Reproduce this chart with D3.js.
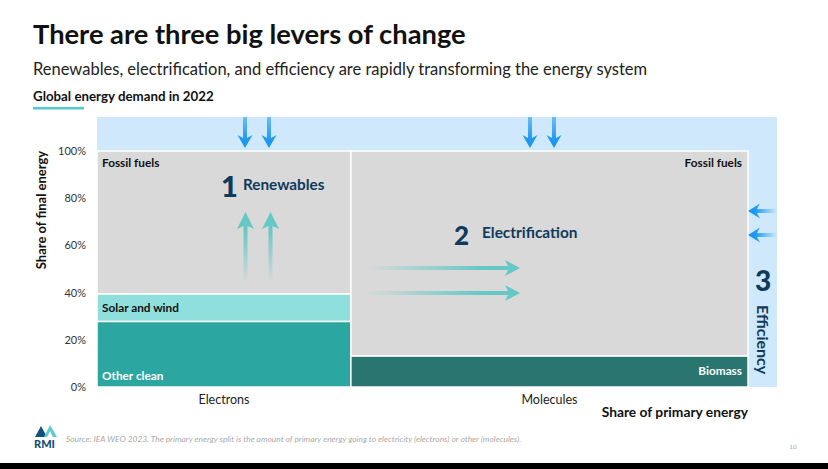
<!DOCTYPE html>
<html>
<head>
<meta charset="utf-8">
<script src="https://cdn.jsdelivr.net/npm/d3@7"></script>
<style>
  body { margin: 0; background: #fff; }
  svg { display: block; font-family: Lato, "Open Sans", sans-serif; }
</style>
</head>
<body>
<svg id="chart" width="828" height="469"></svg>
<script>
"use strict";

// values
const columns          = ["Electrons", "Molecules"];
const primaryShare     = [39, 61];                       // share of primary energy, %
const electronSegments = ["Other clean", "Solar and wind", "Fossil fuels"];
const electronValues   = [27.8, 11.7, 60.5];             // share of final energy, %
const moleculeSegments = ["Biomass", "Fossil fuels"];
const moleculeValues   = [13.2, 86.8];
const yTicks           = [0, 20, 40, 60, 80, 100];

const segmentColor = {
  "Other clean": "#2ba6a0",
  "Solar and wind": "#8fdfdd",
  "Fossil fuels": "#d9d9d9",
  "Biomass": "#2a7570"
};
const navy = "#0e3a5d";

const svg = d3.select("#chart");
const defs = svg.append("defs");

/* scales */
const x = d3.scaleLinear().domain([0, 100]).range([97, 748]);
const y = d3.scaleLinear().domain([0, 100]).range([387, 151]);

/* build the mekko cells from the arrays */
function build_cells() {
  let cells = [];
  let colStart = 0;
  const segs = [electronSegments, moleculeSegments];
  const vals = [electronValues, moleculeValues];
  columns.forEach((col, i) => {
    let acc = 0;
    segs[i].forEach((name, j) => {
      cells.push({col: col, colIndex: i, name: name,
                  x0: colStart, x1: colStart + primaryShare[i],
                  y0: acc, y1: acc + vals[i][j]});
      acc += vals[i][j];
    });
    colStart += primaryShare[i];
  });
  return cells;
}

/* arrow polygon from tail (x0,y0) to tip (x1,y1) */
function arrow_path(x0, y0, x1, y1, shaft, headW, headL) {
  const len = Math.hypot(x1 - x0, y1 - y0),
        ux = (x1 - x0) / len, uy = (y1 - y0) / len,
        px = -uy, py = ux,
        bx = x1 - ux * headL, by = y1 - uy * headL,
        nx = bx + ux * 3, ny = by + uy * 3;
  const pts = [
    [x0 + px * shaft / 2, y0 + py * shaft / 2],
    [nx + px * shaft / 2, ny + py * shaft / 2],
    [bx + px * headW / 2, by + py * headW / 2],
    [x1, y1],
    [bx - px * headW / 2, by - py * headW / 2],
    [nx - px * shaft / 2, ny - py * shaft / 2],
    [x0 - px * shaft / 2, y0 - py * shaft / 2]
  ];
  return d3.line()(pts) + "Z";
}

/* gradient fading from the tail to the head */
function make_gradient(id, color, dir, tailOpacity) {
  const g = defs.append("linearGradient").attr("id", id);
  const v = {down: [0, 0, 0, 1], up: [0, 1, 0, 0], left: [1, 0, 0, 0], right: [0, 0, 1, 0]}[dir];
  g.attr("x1", v[0]).attr("y1", v[1]).attr("x2", v[2]).attr("y2", v[3]);
  g.append("stop").attr("offset", 0).attr("stop-color", color).attr("stop-opacity", tailOpacity);
  g.append("stop").attr("offset", 0.75).attr("stop-color", color).attr("stop-opacity", 1);
  g.append("stop").attr("offset", 1).attr("stop-color", color).attr("stop-opacity", 1);
}

/* title block */
function render_titles() {
  svg.append("text").attr("x", 33).attr("y", 44)
      .attr("font-size", 27.3).attr("font-weight", 700).attr("fill", "#111")
      .text("There are three big levers of change");
  svg.append("text").attr("x", 33).attr("y", 75)
      .attr("font-size", 16.5).attr("fill", "#222")
      .text("Renewables, electrification, and efficiency are rapidly transforming the energy system");
  svg.append("text").attr("x", 33).attr("y", 101)
      .attr("font-size", 13.3).attr("font-weight", 700).attr("fill", "#111")
      .text("Global energy demand in 2022");
  svg.append("rect").attr("x", 33).attr("y", 107).attr("width", 51).attr("height", 2.5)
      .attr("fill", "#52cdcd");
}

/* mekko body */
function render_cells(cells) {
  svg.append("rect")
      .attr("x", x(0)).attr("y", 117)
      .attr("width", 777 - x(0)).attr("height", y(0) - 117)
      .attr("fill", "#cfe8fb");

  svg.append("g").selectAll("rect").data(cells).enter().append("rect")
      .attr("x", d => x(d.x0)).attr("y", d => y(d.y1))
      .attr("width", d => x(d.x1) - x(d.x0)).attr("height", d => y(d.y0) - y(d.y1))
      .attr("fill", d => segmentColor[d.name])
      .attr("stroke", "#fff").attr("stroke-width", 1.5);

  svg.append("g").selectAll("text").data(cells).enter().append("text")
      .attr("x", d => d.colIndex === 0 ? x(d.x0) + 5 : x(d.x1) - 6)
      .attr("y", d => {
        if (d.name === "Fossil fuels") return y(d.y1) + 16;
        if (d.name === "Other clean") return y(d.y0) - 7;
        return (y(d.y0) + y(d.y1)) / 2 + 4;
      })
      .attr("text-anchor", d => d.colIndex === 0 ? "start" : "end")
      .attr("font-size", 11.8).attr("font-weight", 700)
      .attr("fill", d => (d.name === "Other clean" || d.name === "Biomass") ? "#fff" : "#111")
      .text(d => d.name);
}

/* axes */
function render_axes() {
  const yAxis = svg.append("g").attr("transform", "translate(" + (x(0) - 8) + ",0)")
      .call(d3.axisLeft(y).tickValues(yTicks).tickSize(0).tickFormat(d => d + "%"));
  yAxis.select(".domain").remove();
  yAxis.selectAll("text").attr("font-size", 11).attr("fill", "#333")
      .attr("font-family", "Lato, sans-serif");

  svg.append("text")
      .attr("transform", "translate(46,210) rotate(-90)")
      .attr("text-anchor", "middle").attr("font-size", 13).attr("font-weight", 700).attr("fill", "#111")
      .text("Share of final energy");

  let start = 0;
  columns.forEach((c, i) => {
    svg.append("text")
        .attr("x", x(start + primaryShare[i] / 2)).attr("y", 404)
        .attr("text-anchor", "middle").attr("font-size", 12.5).attr("fill", "#222")
        .text(c);
    start += primaryShare[i];
  });

  svg.append("text").attr("x", x(100)).attr("y", 417)
      .attr("text-anchor", "end").attr("font-size", 13.8).attr("font-weight", 700).attr("fill", "#111")
      .text("Share of primary energy");
}

/* the three levers */
function render_levers() {
  make_gradient("gDown", "#1c99ef", "down", 0.55);
  make_gradient("gLeft", "#1c99ef", "left", 0.0);
  make_gradient("gUp", "#66c8c5", "up", 0.0);
  make_gradient("gRight", "#66c8c5", "right", 0.0);

  const downX = [245, 269, 530, 554];
  downX.forEach(dx => svg.append("path")
      .attr("d", arrow_path(dx, 117, dx, 148, 4, 15, 13)).attr("fill", "url(#gDown)"));

  [211, 235].forEach(ly => svg.append("path")
      .attr("d", arrow_path(777, ly, 748, ly, 4, 15, 12)).attr("fill", "url(#gLeft)"));

  [245.5, 270.5].forEach(ux => svg.append("path")
      .attr("d", arrow_path(ux, 282, ux, 212, 4, 17, 17)).attr("fill", "url(#gUp)"));

  [268, 293].forEach(ry => svg.append("path")
      .attr("d", arrow_path(366, ry, 520, ry, 4, 16, 15)).attr("fill", "url(#gRight)"));

  // labels
  svg.append("text").attr("x", 221).attr("y", 197)
      .attr("font-size", 29).attr("font-weight", 900).attr("fill", navy).text("1");
  svg.append("text").attr("x", 243).attr("y", 190)
      .attr("font-size", 15.3).attr("font-weight", 700).attr("fill", navy).text("Renewables");

  svg.append("text").attr("x", 454).attr("y", 245)
      .attr("font-size", 26).attr("font-weight", 900).attr("fill", navy).text("2");
  svg.append("text").attr("x", 482).attr("y", 238)
      .attr("font-size", 15.4).attr("font-weight", 700).attr("fill", navy).text("Electrification");

  svg.append("text").attr("x", 763).attr("y", 291).attr("text-anchor", "middle")
      .attr("font-size", 28).attr("font-weight", 900).attr("fill", navy).text("3");
  svg.append("text").attr("transform", "translate(757,305) rotate(90)")
      .attr("font-size", 16).attr("font-weight", 700).attr("fill", navy).text("Efficiency");
}

/* footer with logo, source and page number */
function render_footer() {
  svg.append("path").attr("d", "M35,437 L41,426 L47,437 Z").attr("fill", "#14507e");
  svg.append("path").attr("d", "M44,437 L50,425 L57,437 L53,437 L50,431 L47,437 Z").attr("fill", "#5ccbd0");
  svg.append("text").attr("x", 34).attr("y", 447.5)
      .attr("font-size", 11).attr("font-weight", 900).attr("fill", "#14507e").text("RMI");

  svg.append("text").attr("x", 66).attr("y", 442)
      .attr("font-size", 8.4).attr("font-style", "italic").attr("fill", "#aaa")
      .text("Source: IEA WEO 2023. The primary energy split is the amount of primary energy going to electricity (electrons) or other (molecules).");

  svg.append("text").attr("x", 793).attr("y", 449).attr("text-anchor", "middle")
      .attr("font-size", 6.5).attr("fill", "#aaa").text("10");

  svg.append("rect").attr("x", 0).attr("y", 463).attr("width", 828).attr("height", 6).attr("fill", "#000");
}

render_titles();
render_cells(build_cells());
render_axes();
render_levers();
render_footer();
</script>
</body>
</html>
